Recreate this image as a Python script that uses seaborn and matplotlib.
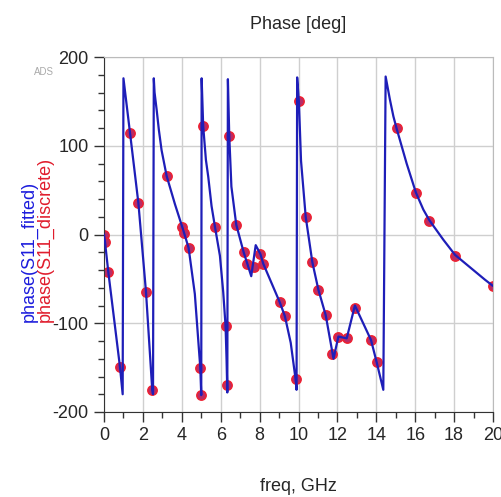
import matplotlib
matplotlib.use("Agg")
import matplotlib.pyplot as plt
import seaborn as sns
import pandas as pd
from matplotlib.ticker import MultipleLocator

# fitted curve (phase(S11_fitted)), vertices
fit_freq = [0.0, 0.05, 0.22, 0.82, 0.96, 1.0, 1.34, 1.77, 2.16, 2.48, 2.52, 2.56,
            2.6, 2.71, 2.82, 2.96, 3.22, 3.65, 4.03, 4.35, 4.67, 4.95, 5.0, 5.02,
            5.1, 5.24, 5.36, 5.53, 5.71, 5.96, 6.13, 6.25, 6.3, 6.34, 6.37, 6.44,
            6.55, 6.8, 7.18, 7.37, 7.57, 7.8, 8.04, 8.19, 9.03, 9.3, 9.6, 9.85, 9.9,
            9.93, 10.02, 10.13, 10.37, 10.71, 11.02, 11.4, 11.8, 12.05, 12.48, 12.9,
            13.73, 14.02, 14.36, 14.48, 14.7, 14.88, 15.05, 15.56, 16.04, 16.42,
            16.73, 17.45, 18.05, 18.82, 19.59, 20.0]
fit_phase = [0, -8, -42, -149, -180, 176, 114, 35, -65, -175, -180, 176,
             160, 140, 118, 95, 66, 34, 8, -15, -67, -150, -181, 176,
             122, 84, 65, 32, 8, -24, -65, -103, -140, -178, 175, 111,
             54, 11, -20, -33, -47, -12, -22, -33, -76, -92, -122, -163, -175,
             177, 150, 83, 20, -31, -62, -91, -140, -115, -117, -80,
             -119, -144, -175, 178, 152, 133, 119, 80, 47, 28,
             16, -6, -23, -37, -51, -58]

# discrete samples (phase(S11_discrete))
disc_freq = [0.0, 0.05, 0.22, 0.82, 1.34, 1.77, 2.16, 2.48, 3.22, 4.03, 4.09, 4.35,
             4.95, 5.0, 5.1, 5.71, 6.25, 6.34, 6.44, 6.8, 7.18, 7.37, 7.71, 8.04,
             8.19, 9.03, 9.3, 9.85, 10.02, 10.37, 10.71, 11.02, 11.4, 11.74, 12.05,
             12.48, 12.9, 13.73, 14.02, 15.05, 16.02, 16.71, 18.05, 20.0]
disc_phase = [0, -8, -42, -149, 114, 35, -65, -175, 66, 8, 2, -15,
              -150, -181, 122, 8, -103, -170, 111, 11, -20, -33, -37, -22,
              -33, -76, -92, -163, 150, 20, -31, -62, -91, -135, -115,
              -117, -83, -119, -144, 120, 47, 15, -24, -58]

x_ticks = [0, 2, 4, 6, 8, 10, 12, 14, 16, 18, 20]
y_ticks = [-200, -100, 0, 100, 200]

fit_df = pd.DataFrame({"freq": fit_freq, "phase": fit_phase})
disc_df = pd.DataFrame({"freq": disc_freq, "phase": disc_phase})

sns.set_style("white")
plt.rcParams["font.family"] = ["Liberation Sans", "DejaVu Sans"]
plt.rcParams["axes.unicode_minus"] = False

fig = plt.figure(figsize=(5.02, 4.97), dpi=100)
ax = fig.add_axes([104 / 502, 1 - 412 / 497, (493 - 104) / 502, (412 - 57) / 497])

sns.scatterplot(data=disc_df, x="freq", y="phase", ax=ax, s=45,
                color="#b82c66", edgecolor="#ee2030", linewidth=1.1, zorder=2)
sns.lineplot(data=fit_df, x="freq", y="phase", ax=ax, sort=False, estimator=None,
             color="#1e1eb8", linewidth=1.6, zorder=3)

ax.set_xlim(0, 20)
ax.set_ylim(-200, 200)
ax.set_xticks(x_ticks)
ax.set_yticks(y_ticks)
ax.xaxis.set_minor_locator(MultipleLocator(1))
ax.yaxis.set_minor_locator(MultipleLocator(20))
ax.grid(True, which="major", color="#cfcfcf", linewidth=1.0)
ax.set_axisbelow(True)

ax.tick_params(axis="both", which="major", direction="out", length=7, width=1,
               color="#333333", labelsize=13, pad=4)
ax.tick_params(axis="both", which="minor", direction="out", length=4, width=1,
               color="#333333")
ax.tick_params(axis="x", which="both", bottom=True)
ax.tick_params(axis="y", which="both", left=True)

for side in ["top", "right"]:
    ax.spines[side].set_color("#bbbbbb")
for side in ["left", "bottom"]:
    ax.spines[side].set_color("#333333")

ax.set_xlabel("freq, GHz", fontsize=13, labelpad=24)
ax.set_ylabel("")
ax.set_title("Phase [deg]", fontsize=13, pad=20)

fig.text(29 / 502, 1 - 322 / 497, "phase(S11_fitted)", rotation=90, color="#1c1cdc",
         fontsize=13, ha="center", va="bottom")
fig.text(45 / 502, 1 - 322 / 497, "phase(S11_discrete)", rotation=90, color="#e01c2c",
         fontsize=13, ha="center", va="bottom")
fig.text(44 / 502, 1 - 72 / 497, "ADS", color="#aaaaaa", fontsize=7, ha="center", va="center")

fig.savefig("out.png", dpi=100)
